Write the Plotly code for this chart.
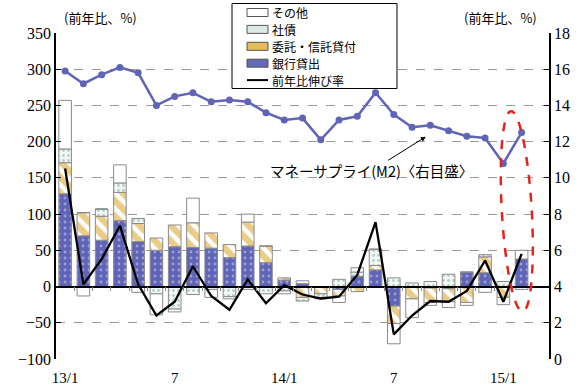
import numpy as np
import plotly.graph_objects as go

months = ["13/1","13/2","13/3","13/4","13/5","13/6","13/7","13/8","13/9","13/10","13/11","13/12",
          "14/1","14/2","14/3","14/4","14/5","14/6","14/7","14/8","14/9","14/10","14/11","14/12",
          "15/1","15/2","15/3"]
tick_vals = ["13/1","13/7","14/1","14/7","15/1"]
tick_text = ["13/1","7","14/1","7","15/1"]

bank   = [128, 70, 64, 91, 62, 50, 55, 54, 53, 40, 56, 33, 9, 4, 0, -4, 14, 23, -27, 0, -2, -3, 20, 19, 0, 38]
trust  = [43, 32, 33, 39, 25, 17, 30, 34, 21, 18, 33, 23, 3, -15, -10, -9, -7, 6, -24, -17, -20, -18, -22, 22, -15, 0]
bond   = [19, 0, 10, 13, 7, -10, -31, -11, -4, -14, -4, -10, -6, -5, -5, 10, 6, 22, 12, 5, 7, 17, 0, 3, 7, -4]
other  = [67, -13, 0, 25, -8, -29, -4, 34, -11, -3, 11, 0, -4, 4, -2, -9, 6, 1, -28, -26, -4, -8, -4, -8, -10, 12]
growth = [163, 3, 38, 84, 3, -40, -21, 28, -13, -32, 10, -23, 2, -11, -16.5, -14, 16, 89, -66, -40, -20, -21, -6, 36, -21, 45]
m2     = [15.9, 15.2, 15.7, 16.1, 15.8, 14.0, 14.5, 14.7, 14.2, 14.3, 14.2, 13.6, 13.2, 13.3, 12.1,
          13.2, 13.4, 14.7, 13.5, 12.8, 12.9, 12.6, 12.3, 12.2, 10.8, 12.5]

series_names = ["その他", "社債", "委託・信託貸付", "銀行貸出", "前年比伸び率"]

x = months[:len(bank)]
SERIF = "Liberation Serif, Noto Sans CJK JP"
JP = "Noto Sans CJK JP"
BLUE = "#6064b6"
edge = dict(color="#8a8a8a", width=1)

fig = go.Figure()
fig.add_trace(go.Bar(x=x, y=bank, name="銀行貸出", showlegend=False,
                     marker=dict(color=BLUE, line=edge,
                                 pattern=dict(shape=".", fgcolor="#d8daf2", size=6, solidity=0.18, fillmode="overlay"))))
fig.add_trace(go.Bar(x=x, y=trust, name="委託・信託貸付", showlegend=False,
                     marker=dict(color="white", line=edge,
                                 pattern=dict(shape="\\", fgcolor="#d49a10", size=11, solidity=0.6, fillmode="overlay"))))
fig.add_trace(go.Bar(x=x, y=bond, name="社債", showlegend=False,
                     marker=dict(color="#f3f8f5", line=edge,
                                 pattern=dict(shape=".", fgcolor="#6fa690", size=5, solidity=0.25, fillmode="overlay"))))
fig.add_trace(go.Bar(x=x, y=other, name="その他", showlegend=False,
                     marker=dict(color="white", line=edge)))
fig.add_trace(go.Scatter(x=x, y=growth, name="前年比伸び率", showlegend=False, mode="lines",
                         line=dict(color="black", width=2.3)))
fig.add_trace(go.Scatter(x=x, y=m2, yaxis="y2", mode="lines+markers", showlegend=False,
                         line=dict(color=BLUE, width=2.5), marker=dict(color=BLUE, size=7)))

# plot-area geometry in pixels (for legend / decoration placement)
L, R, T, B = 56, 549, 33, 359
def px(xp): return (xp - L) / (R - L)
def py(yp): return (B - yp) / (B - T)

# dashed red ellipse (decoration) around the latest observation
px_per_cat, px_per_unit = 18.28, 0.7256
cx, cy = 517.5, 212.0
v = np.array([5.8, 100.5]); v /= np.linalg.norm(v)
u = np.array([v[1], -v[0]])
t = np.linspace(0, 2*np.pi, 73)
pts = np.array([cx, cy])[:, None] + 15*np.cos(t)*u[:, None] + 100.5*np.sin(t)*v[:, None]
xs = (pts[0] - 65.3) / px_per_cat
ys = (287.3 - pts[1]) / px_per_unit
path = "M " + " L ".join(f"{a:.3f},{b:.3f}" for a, b in zip(xs, ys)) + " Z"

shapes = [dict(type="path", path=path, xref="x2", yref="y",
               line=dict(color="#e8231e", width=2.5, dash="dash"))]
annotations = []

# legend box (drawn manually to match the compact original)
LEG_FONT = 12
step = 16.9
center = 46.3
row_y = [center + (i - 2) * step for i in range(5)]
shapes.append(dict(type="rect", xref="paper", yref="paper", x0=px(232), x1=px(397),
                   y0=py(88.5), y1=py(3.5),
                   line=dict(color="black", width=1), fillcolor="white", layer="above"))
sym_fill = ["white", "#dcebe3", "#e6bd5a", "#6468b8"]
for i, name in enumerate(series_names):
    yc = row_y[i]
    if i < 4:
        shapes.append(dict(type="rect", xref="paper", yref="paper", x0=px(247), x1=px(268),
                           y0=py(yc + 4), y1=py(yc - 4), fillcolor=sym_fill[i],
                           line=dict(color="#555", width=1), layer="above"))
    else:
        shapes.append(dict(type="line", xref="paper", yref="paper", x0=px(247), x1=px(268),
                           y0=py(yc), y1=py(yc), line=dict(color="black", width=2), layer="above"))
    annotations.append(dict(text=name, x=px(271), y=py(yc), xref="paper", yref="paper",
                            xanchor="left", yanchor="middle", showarrow=False, borderpad=0,
                            font=dict(family=JP, size=LEG_FONT)))

annotations += [
    dict(text="(前年比、%)", x=0.0, y=1.0, xref="paper", yref="paper", xanchor="left",
         yanchor="bottom", xshift=6, yshift=4, showarrow=False, font=dict(family=JP, size=13)),
    dict(text="(前年比、%)", x=1.0, y=1.0, xref="paper", yref="paper", xanchor="right",
         yanchor="bottom", xshift=-10, yshift=4, showarrow=False, font=dict(family=JP, size=13)),
    dict(text="マネーサプライ(M2)〈右目盛〉", x=px(371), y=py(170), xref="paper", yref="paper",
         xanchor="center", yanchor="middle", showarrow=False, font=dict(family=JP, size=14.5)),
    dict(text="", x=19.8, y=12.3, xref="x", yref="y2", showarrow=True, arrowhead=2,
         arrowsize=1, arrowwidth=1, arrowcolor="black", ax=-40, ay=25, standoff=1),
]

fig.update_layout(
    width=584, height=385,
    margin=dict(l=L, r=584 - R, t=T, b=385 - B, autoexpand=False),
    paper_bgcolor="white", plot_bgcolor="white",
    barmode="relative", bargap=0.31,
    font=dict(family=SERIF, size=15, color="black"),
    showlegend=False,
    xaxis=dict(type="category", categoryorder="array", categoryarray=months,
               range=[-0.5, 26.5], tickmode="array", tickvals=tick_vals, ticktext=tick_text,
               ticks="", showgrid=False, showline=False, zeroline=False,
               tickfont=dict(family=SERIF, size=15), ticklabelstandoff=8),
    xaxis2=dict(overlaying="x", anchor="free", position=(0 - (-100)) / 450, range=[-0.5, 26.5],
                tickmode="array", tickvals=[i + 0.5 for i in range(26)], ticks="outside",
                ticklen=4, tickcolor="#888", showticklabels=False, showgrid=False,
                showline=True, linecolor="black", linewidth=1.5, zeroline=False),
    yaxis=dict(range=[-100, 350], dtick=50, tick0=0, showgrid=True, gridcolor="#9a9a9a",
               griddash="dash", gridwidth=1, zeroline=False, showline=True,
               linecolor="black", linewidth=1.5, ticks="inside", ticklen=5, tickcolor="black",
               tickfont=dict(family=SERIF, size=16)),
    yaxis2=dict(range=[0, 18], dtick=2, overlaying="y", side="right", showgrid=False,
                zeroline=False, showline=True, linecolor="black", linewidth=1.5,
                ticks="inside", ticklen=5, tickcolor="black",
                tickfont=dict(family=SERIF, size=16)),
    shapes=shapes,
    annotations=annotations,
)

fig.write_html("out.html", config={"displayModeBar": False},
               post_script="document.body.style.margin='0px';")
